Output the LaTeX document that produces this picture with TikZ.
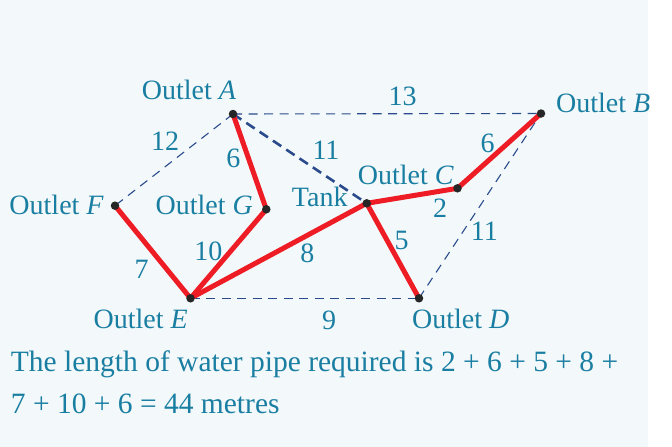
\documentclass[tikz,border=0pt]{standalone}
\usepackage{fontspec}
\setmainfont{Liberation Serif}
\definecolor{bgc}{HTML}{F3F9FA}
\definecolor{txtc}{HTML}{1A7EA2}
\definecolor{pipe}{HTML}{EE1C25}
\definecolor{dashc}{HTML}{2A4A8C}
\tikzset{
  lbl/.style={font=\fontsize{28}{34}\selectfont, text=txtc, inner sep=0pt},
  body/.style={font=\fontsize{29.5}{36}\selectfont, text=txtc, inner sep=0pt},
  num/.style={font=\fontsize{28}{34}\selectfont, text=txtc, inner sep=0pt, anchor=center},
  pipeline/.style={draw=pipe, line width=5pt},
  thin dash/.style={draw=dashc, line width=1.1pt, dash pattern=on 9pt off 6.5pt},
  thick dash/.style={draw=dashc, line width=2.6pt, dash pattern=on 10pt off 6pt},
  dot/.style={circle, fill=black!85, inner sep=0pt, minimum size=8.5pt}
}
\begin{document}
\begin{tikzpicture}[x=1pt,y=-1pt]
\fill[white] (0,0) rectangle (672,447);
\fill[bgc] (0,0) rectangle (648,447);
\useasboundingbox (0,0) rectangle (672,447);

\coordinate (A) at (233,114);
\coordinate (B) at (541,113.5);
\coordinate (C) at (457.5,188.3);
\coordinate (T) at (366.7,203.3);
\coordinate (F) at (115,205.7);
\coordinate (G) at (266.3,209.3);
\coordinate (E) at (190.5,298.3);
\coordinate (D) at (419,298.3);

% dashed edges
\draw[thin dash] (A) -- (B);
\draw[thin dash] (A) -- (F);
\draw[thin dash] (E) -- (D);
\draw[thin dash] (D) -- (B);
\draw[thick dash] (A) -- (T);

% pipes
\draw[pipeline] (A) -- (G);
\draw[pipeline] (G) -- (E);
\draw[pipeline] (F) -- (E);
\draw[pipeline] (E) -- (T);
\draw[pipeline] (T) -- (D);
\draw[pipeline] (T) -- (C);
\draw[pipeline] (C) -- (B);

% dots
\foreach \p in {A,B,C,T,F,G,E,D} \node[dot] (d\p) at (\p) {};

% vertex labels
\node[lbl, anchor=base west] (lA) at (141.7,99.3) {Outlet \textit{A}};
\node[lbl, anchor=base west] (lB) at (556,112.7) {Outlet \textit{B}};
\node[lbl, anchor=base west] (lC) at (357.7,184) {Outlet \textit{C}};
\node[lbl, anchor=base west] (lT) at (291.7,206.7) {Tank};
\node[lbl, anchor=base east] (lF) at (104,214) {Outlet \textit{F}};
\node[lbl, anchor=base east] (lG) at (253,214) {Outlet \textit{G}};
\node[lbl, anchor=base east] (lE) at (188,328.3) {Outlet \textit{E}};
\node[lbl, anchor=base west] (lD) at (412,328.3) {Outlet \textit{D}};

% edge weights
\node[num] (w13) at (402.7,96.7) {13};
\node[num] (w12) at (165,141) {12};
\node[num] (w6a) at (233.3,158.3) {6};
\node[num] (w11a) at (326,150) {11};
\node[num] (w6b) at (487.7,143.3) {6};
\node[num] (w2) at (440,208.3) {2};
\node[num] (w11b) at (484.3,231.7) {11};
\node[num] (w5) at (401.7,240) {5};
\node[num] (w10) at (208.3,251) {10};
\node[num] (w8) at (307.3,253.3) {8};
\node[num] (w7) at (141.7,269.3) {7};
\node[num] (w9) at (329,320.5) {9};

% conclusion text
\node[body, anchor=base west] (t1) at (10.7,371.7) {The length of water pipe required is 2 + 6 + 5 + 8 +};
\node[body, anchor=base west] (t2) at (10.7,413) {7 + 10 + 6 = 44 metres};
\end{tikzpicture}
\end{document}
